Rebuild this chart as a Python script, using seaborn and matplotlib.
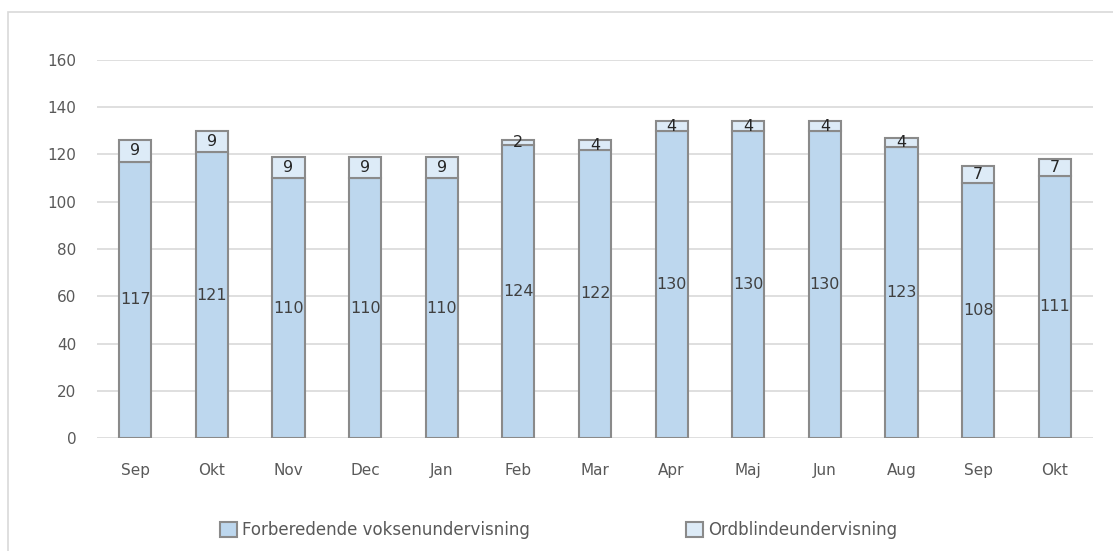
import numpy as np
import pandas as pd
import matplotlib.pyplot as plt
import seaborn as sns
from matplotlib.patches import Rectangle

months = ['Sep', 'Okt', 'Nov', 'Dec', 'Jan', 'Feb', 'Mar', 'Apr', 'Maj', 'Jun', 'Aug', 'Sep', 'Okt']
fvu = [117, 121, 110, 110, 110, 124, 122, 130, 130, 130, 123, 108, 111]
ordblinde = [9, 9, 9, 9, 9, 2, 4, 4, 4, 4, 4, 7, 7]
series_names = ['Forberedende voksenundervisning', 'Ordblindeundervisning']

df = pd.DataFrame({'pos': range(len(months)), 'fvu': fvu, 'ord': ordblinde})

sns.set_style('white')
plt.rcParams['font.family'] = ['DejaVu Sans']

fig = plt.figure(figsize=(11.13, 5.51), dpi=100)
ax = fig.add_axes([97 / 1113, 1 - 438 / 551, (1093 - 97) / 1113, (438 - 60) / 551])

# chart frame
fig.patches.append(Rectangle((8 / 1113, -0.1), 1.2, 1 - 12 / 551 + 0.1, transform=fig.transFigure,
                             fill=False, edgecolor='#d9d9d9', linewidth=1.2, zorder=-5))

edge = '#8a8a8a'
sns.barplot(data=df, x='pos', y='fvu', color='#bdd7ee', saturation=1, width=0.42,
            edgecolor=edge, linewidth=1.5, ax=ax, label=series_names[0], zorder=3)
sns.barplot(data=df, x='pos', y='ord', color='#ddebf7', saturation=1, width=0.42,
            bottom=df['fvu'], edgecolor=edge, linewidth=1.5, ax=ax, label=series_names[1], zorder=3)

for i in range(len(months)):
    ax.text(i, fvu[i] / 2, str(fvu[i]), ha='center', va='center', fontsize=11.5, color='#404040', zorder=5)
    ax.text(i, fvu[i] + ordblinde[i] / 2, str(ordblinde[i]), ha='center', va='center',
            fontsize=11.5, color='#262626', zorder=5)

ax.set_ylim(0, 160)
ax.set_xlim(-0.5, len(months) - 0.5)
ax.set_yticks(np.arange(0, 161, 20))
ax.set_xticks(range(len(months)))
ax.set_xticklabels(months)
ax.yaxis.grid(True, color='#d9d9d9', linewidth=1.2, zorder=0)
ax.set_axisbelow(True)
ax.tick_params(axis='both', length=0, labelsize=11, colors='#595959')
ax.tick_params(axis='x', pad=18)
ax.tick_params(axis='y', pad=15)
ax.set_xlabel('')
ax.set_ylabel('')
for s in ax.spines.values():
    s.set_visible(False)

handles, labels = ax.get_legend_handles_labels()
if ax.legend_ is not None:
    ax.legend_.remove()
fig.legend(handles, labels, loc='center left', bbox_to_anchor=(215 / 1113, 1 - 530 / 551), ncol=2,
           frameon=False, fontsize=12, labelcolor='#595959', handlelength=1.0, handleheight=1.0,
           handletextpad=0.3, columnspacing=9.4, borderaxespad=0, borderpad=0.3)

fig.savefig('out.png', dpi=100)
